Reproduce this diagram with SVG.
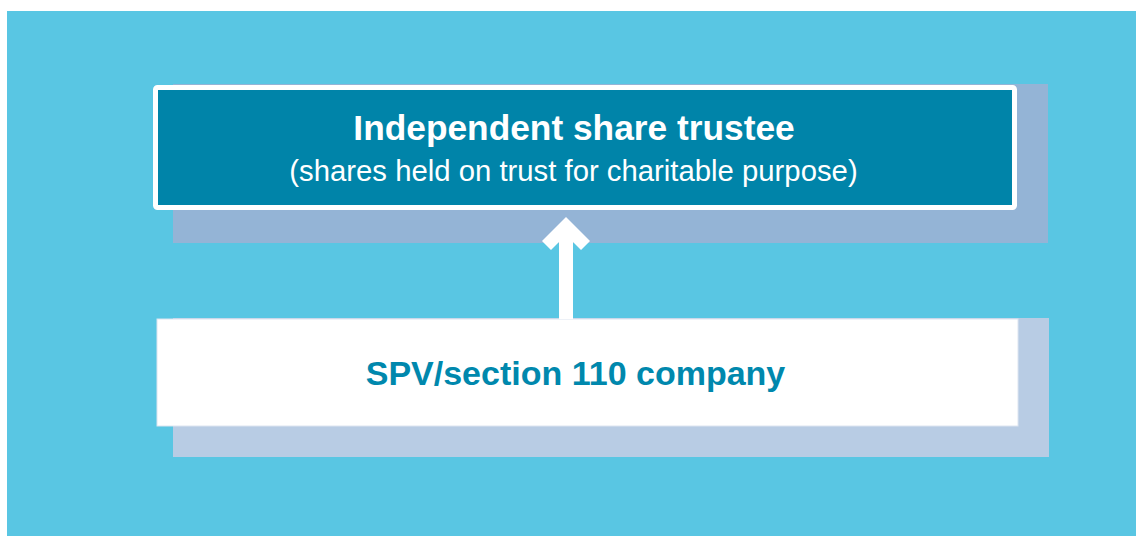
<svg xmlns="http://www.w3.org/2000/svg" width="1136" height="536" viewBox="0 0 1136 536">
<style>
.title{font-family:"Liberation Sans",Arial,sans-serif;font-weight:bold;text-anchor:middle}
.sub{font-family:"Liberation Sans",Arial,sans-serif;text-anchor:middle}
</style>
<rect x="0" y="0" width="1136" height="536" fill="#ffffff"/>
<rect x="7" y="11" width="1129" height="525" fill="#59C6E3"/>
<g id="trustee">
<rect x="173" y="84" width="875" height="159" fill="#94B4D6"/>
<rect x="155.5" y="87.5" width="859" height="120" rx="2" fill="#0084A9" stroke="#ffffff" stroke-width="5"/>
<text class="title" x="574" y="140" font-size="35.3" fill="#ffffff">Independent share trustee</text>
<text class="sub" x="573.5" y="181" font-size="29.3" fill="#ffffff">(shares held on trust for charitable purpose)</text>
</g>
<g id="spv">
<rect x="173" y="318" width="876" height="139" fill="#B8CCE4"/>
<rect x="157" y="319" width="861" height="107" fill="#ffffff" stroke="#DCE4F0" stroke-width="1"/>
<text class="title" x="575.5" y="385" font-size="34" fill="#0088AD">SPV/section 110 company</text>
</g>
<g id="connectors">
<polygon points="566,217 590,241 581,250 573,242 573,319 559,319 559,242 551,250 542,241" fill="#ffffff"/>
</g>
</svg>
